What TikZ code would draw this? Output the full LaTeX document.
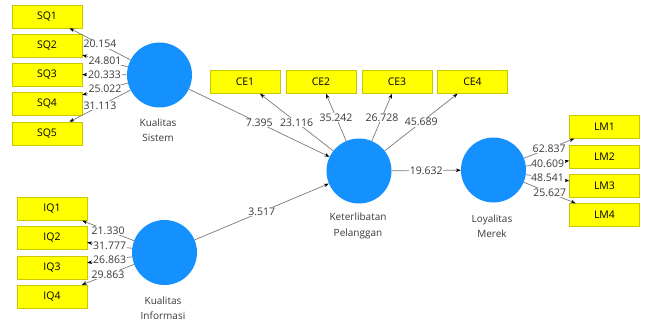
\documentclass[tikz,border=0pt]{standalone}
\usepackage{fontspec}
\setmainfont{Open Sans}
\usetikzlibrary{arrows.meta}
\definecolor{lvblue}{HTML}{1490FF}
\definecolor{mvyellow}{HTML}{FFFF00}
\definecolor{mvborder}{HTML}{C8C800}
\definecolor{linegray}{HTML}{7A7A7A}
\definecolor{txtgray}{HTML}{3A3A3A}
\begin{document}
\begin{tikzpicture}[x=1pt,y=-1pt,
  font=\fontsize{10.5}{12}\selectfont,
  ind/.style={draw=mvborder,fill=mvyellow,minimum width=70pt,minimum height=23pt,inner sep=0pt,text=black},
  lat/.style={circle,fill=lvblue,minimum size=65pt,inner sep=0pt},
  path/.style={draw=linegray,line width=0.7pt,-{Stealth[length=5pt,width=3.6pt,color=black]}},
  coef/.style={midway,fill=white,inner sep=0.6pt,text=txtgray},
  latlab/.style={align=center,text=txtgray,font=\fontsize{10}{15.5}\selectfont}]
\useasboundingbox (0,0) rectangle (645,326);
% latent variables
\node[lat] (ks) at (159.5,75) {};
\node[lat] (ki) at (164.5,252.5) {};
\node[lat] (kp) at (359,171) {};
\node[lat] (lm) at (493.5,170) {};
\node[latlab] (ksl) at (158,130.5) {Kualitas\\Sistem};
\node[latlab] (kil) at (163,308) {Kualitas\\Informasi};
\node[latlab] (kpl) at (358,226) {Keterlibatan\\Pelanggan};
\node[latlab] (lml) at (492,226) {Loyalitas\\Merek};
% indicators
\node[ind] (sq1) at (47,16.5) {SQ1};
\node[ind] (sq2) at (47,46) {SQ2};
\node[ind] (sq3) at (47,74.5) {SQ3};
\node[ind] (sq4) at (47,104) {SQ4};
\node[ind] (sq5) at (47,133.5) {SQ5};
\node[ind] (iq1) at (52,209) {IQ1};
\node[ind] (iq2) at (52,238) {IQ2};
\node[ind] (iq3) at (52,267.5) {IQ3};
\node[ind] (iq4) at (52,296.5) {IQ4};
\node[ind] (ce1) at (245,82) {CE1};
\node[ind] (ce2) at (321,82) {CE2};
\node[ind] (ce3) at (397,82) {CE3};
\node[ind] (ce4) at (472.5,82) {CE4};
\node[ind] (lm1) at (604.5,127) {LM1};
\node[ind] (lm2) at (604.5,156.5) {LM2};
\node[ind] (lm3) at (604.5,186) {LM3};
\node[ind] (lm4) at (604.5,215) {LM4};
% outer loadings
\draw[path] (ks) -- node[coef] {20.154} (sq1);
\draw[path] (ks) -- node[coef] {24.801} (sq2);
\draw[path] (ks) -- node[coef] {20.333} (sq3);
\draw[path] (ks) -- node[coef] {25.022} (sq4);
\draw[path] (ks) -- node[coef] {31.113} (sq5);
\draw[path] (ki) -- node[coef] {21.330} (iq1);
\draw[path] (ki) -- node[coef] {31.777} (iq2);
\draw[path] (ki) -- node[coef] {26.863} (iq3);
\draw[path] (ki) -- node[coef] {29.863} (iq4);
\draw[path] (kp) -- node[coef] {23.116} (ce1);
\draw[path] (kp) -- node[coef] {35.242} (ce2);
\draw[path] (kp) -- node[coef] {26.728} (ce3);
\draw[path] (kp) -- node[coef] {45.689} (ce4);
\draw[path] (lm) -- node[coef] {62.837} (lm1);
\draw[path] (lm) -- node[coef] {40.609} (lm2);
\draw[path] (lm) -- node[coef] {48.541} (lm3);
\draw[path] (lm) -- node[coef] {25.627} (lm4);
% structural paths
\draw[path] (ks) -- node[coef] {7.395} (kp);
\draw[path] (ki) -- node[coef] {3.517} (kp);
\draw[path] (kp) -- node[coef] {19.632} (lm);
\end{tikzpicture}
\end{document}
